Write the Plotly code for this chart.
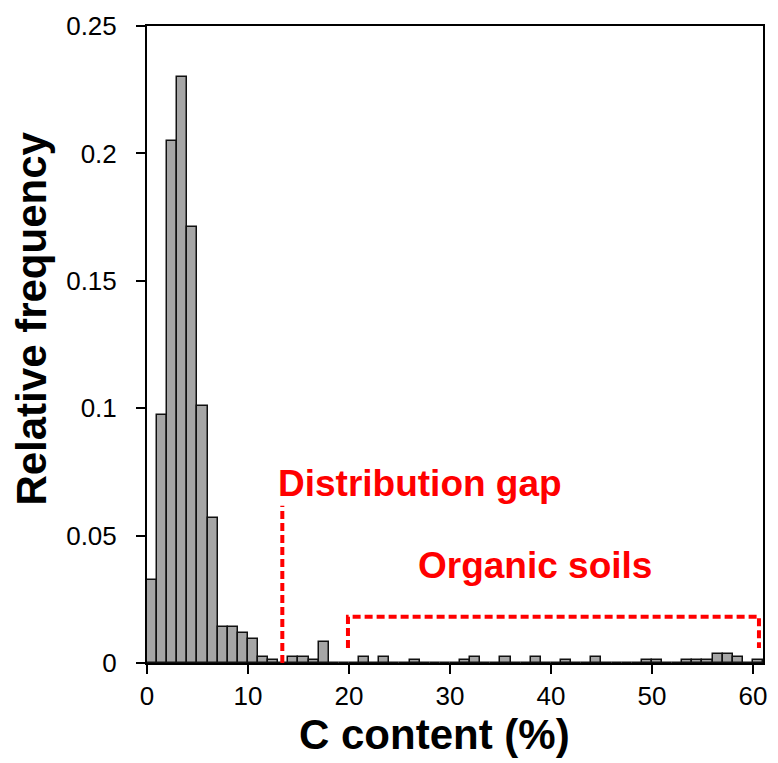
import plotly.graph_objects as go

# Histogram bins (1 % C wide), left edges and relative frequencies
bin_left = list(range(0, 61))
rel_freq = [0.0324, 0.0975, 0.205, 0.230, 0.171, 0.101, 0.0568, 0.0142, 0.0142, 0.0118,
            0.0096, 0.0022, 0.001, 0.0, 0.0022, 0.0022, 0.001, 0.0084, 0.0, 0.0,
            0.0, 0.0022, 0.0, 0.0022, 0.0, 0.0, 0.001, 0.0, 0.0, 0.0,
            0.0, 0.001, 0.0022, 0.0, 0.0, 0.0022, 0.0, 0.0, 0.0022, 0.0,
            0.0, 0.001, 0.0, 0.0, 0.0022, 0.0, 0.0, 0.0, 0.0, 0.001,
            0.001, 0.0, 0.0, 0.001, 0.001, 0.001, 0.0036, 0.0036, 0.0022, 0.0,
            0.001]

x_ticks = [0, 10, 20, 30, 40, 50, 60]
y_ticks = [0, 0.05, 0.1, 0.15, 0.2, 0.25]
y_ticklabels = ["0", "0.05", "0.1", "0.15", "0.2", "0.25"]

x_title = "C content (%)"
y_title = "Relative frequency"

# Annotation geometry (data units)
gap_x = 13.4
gap_top = 0.0617
organic_x0, organic_x1 = 19.9, 60.6
organic_y0, organic_y1 = 0.0059, 0.0182
gap_label = ("Distribution gap", 27.0, 0.0703)
organic_label = ("Organic soils", 38.4, 0.0383)

centers = [b + 0.5 for b in bin_left]

fig = go.Figure()
fig.add_trace(go.Bar(
    x=centers, y=rel_freq, width=1,
    marker=dict(color="#a6a6a6", line=dict(color="#111111", width=1.5)),
    showlegend=False, hoverinfo="skip",
))

red = "#ff0000"
dash = "8px,4px"
fig.add_shape(type="line", x0=gap_x, x1=gap_x, y0=0, y1=gap_top,
              line=dict(color=red, width=4, dash=dash))
fig.add_shape(type="path",
              path=f"M {organic_x0},{organic_y0} L {organic_x0},{organic_y1} "
                   f"L {organic_x1},{organic_y1} L {organic_x1},{organic_y0}",
              line=dict(color=red, width=4, dash=dash))

for txt, tx, ty in (gap_label, organic_label):
    fig.add_annotation(x=tx, y=ty, text=f"<b>{txt}</b>", showarrow=False,
                       font=dict(family="Liberation Sans, Arial", size=37, color=red),
                       xanchor="center", yanchor="middle")

# Axis titles (placed as paper annotations to match the reference offsets)
fig.add_annotation(xref="paper", yref="paper", x=0.466, y=-0.112,
                   text=f"<b>{x_title}</b>", showarrow=False,
                   font=dict(family="Liberation Sans, Arial", size=42, color="black"),
                   xanchor="center", yanchor="middle")
fig.add_annotation(xref="paper", yref="paper", x=-0.189, y=0.54,
                   text=f"<b>{y_title}</b>", showarrow=False, textangle=-90,
                   font=dict(family="Liberation Sans, Arial", size=42, color="black"),
                   xanchor="center", yanchor="middle")

fig.update_layout(
    width=778, height=763,
    margin=dict(l=147, r=11, t=22, b=100),
    paper_bgcolor="white", plot_bgcolor="white",
    bargap=0,
    font=dict(family="Liberation Sans, Arial", color="black"),
    xaxis=dict(
        range=[0, 61], tickvals=x_ticks, ticks="outside", ticklen=9, tickwidth=2,
        tickcolor="black", showline=True, linecolor="black", linewidth=2, mirror=True,
        showgrid=False, zeroline=False, tickfont=dict(size=26),
    ),
    yaxis=dict(
        range=[0, 0.25], tickvals=y_ticks, ticktext=y_ticklabels, ticks="outside",
        ticklen=9, tickwidth=2, tickcolor="black", showline=True, linecolor="black",
        linewidth=2, mirror=True, showgrid=False, zeroline=False,
        tickfont=dict(size=26), ticklabelstandoff=14,
    ),
)

fig.write_html("out.html")
